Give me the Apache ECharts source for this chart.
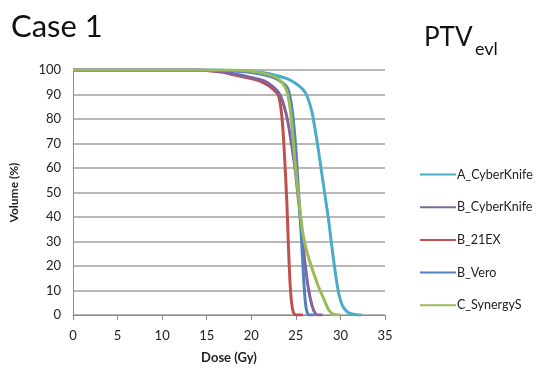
<!DOCTYPE html>
<html>
<head>
<meta charset="utf-8">
<script src="https://cdn.jsdelivr.net/npm/echarts@6/dist/echarts.min.js"></script>
<style>
  html, body { margin: 0; padding: 0; background: #fff; }
  #chart { width: 545px; height: 388px; }
</style>
</head>
<body>
<div id="chart"></div>
<script>
// dose (Gy), volume (%) pairs
const aCyberKnife = [[0, 100], [14, 100], [18, 99.8], [20, 99.5], [22, 98.5], [24, 96.5], [25, 94.5], [25.8, 92], [26.3, 89], [26.8, 83], [27.1, 77], [27.5, 68], [27.9, 58], [28.3, 48], [28.7, 38], [29.0, 29], [29.4, 18], [29.8, 9], [30.2, 4], [30.7, 1.5], [31.2, 0.5], [32.0, 0], [32.4, 0]]
const bCyberKnife = [[0, 100], [14, 100], [16, 99.6], [18, 98.5], [20, 97], [21.5, 95.5], [22.5, 93], [23.2, 90], [23.7, 85], [24.1, 79], [24.5, 70], [24.9, 60], [25.2, 50], [25.5, 40], [25.7, 33], [26.0, 22], [26.4, 11], [26.8, 4], [27.2, 0.5], [27.6, 0], [28, 0]]
const b21EX = [[0, 100], [14, 100], [15, 99.8], [17, 99], [18, 98], [20, 96.5], [21, 95.5], [22, 93.5], [22.5, 92], [23, 90], [23.3, 85], [23.5, 78], [23.7, 67], [24.0, 45], [24.2, 25], [24.4, 10], [24.6, 3], [24.8, 0.5], [25.2, 0], [25.8, 0]]
const bVero = [[0, 100], [16, 100], [18, 99.6], [20, 99], [22, 97.5], [23, 96], [24, 93], [24.4, 88], [24.7, 80], [25.0, 68], [25.3, 50], [25.6, 33], [25.8, 20], [26.0, 8], [26.2, 2], [26.5, 0], [27, 0]]
const cSynergyS = [[0, 100], [17, 100], [20, 99.5], [22, 98], [23, 96.5], [23.8, 93], [24.2, 88], [24.5, 80], [24.8, 67], [25.1, 55], [25.4, 45], [25.8, 33], [26.3, 25], [27.0, 17], [27.6, 11], [28.2, 6], [28.7, 2], [29.2, 0.3], [30, 0]]

const seriesNames = ['A_CyberKnife', 'B_CyberKnife', 'B_21EX', 'B_Vero', 'C_SynergyS']
const seriesData = [aCyberKnife, bCyberKnife, b21EX, bVero, cSynergyS]
const colors = ['#4BACC6', '#8064A2', '#C0504D', '#4F81BD', '#9BBB59']
// draw order: put the top-most lines last
const drawOrder = [0, 2, 1, 3, 4]

const font = 'Lato, "Open Sans", sans-serif'

const chart = echarts.init(document.getElementById('chart'))
chart.setOption({
  animation: false,
  color: colors,
  textStyle: { fontFamily: font },
  title: [
    {
      text: 'Case 1',
      left: 6,
      top: 6,
      textStyle: { fontSize: 31, fontWeight: 'normal', color: '#111', fontFamily: font },
    },
    {
      text: 'PTV',
      left: 419,
      top: 20,
      textStyle: { fontSize: 26, fontWeight: 'normal', color: '#111', fontFamily: font },
    },
    {
      text: 'evl',
      left: 470,
      top: 35,
      textStyle: { fontSize: 18, fontWeight: 'normal', color: '#111', fontFamily: font },
    },
  ],
  legend: {
    orient: 'vertical',
    left: 415,
    top: 163,
    itemWidth: 36,
    itemHeight: 12,
    itemGap: 19.7,
    icon: 'path://M0,5 L36,5 L36,7 L0,7 Z',
    data: seriesNames,
    textStyle: { fontSize: 12.5, color: '#222', fontFamily: font, padding: [0, 0, 0, -4] },
  },
  grid: {
    left: 70,
    right: 160,
    top: 70,
    bottom: 73,
    containLabel: false,
  },
  xAxis: {
    type: 'value',
    min: 0,
    max: 35,
    interval: 5,
    name: 'Dose (Gy)',
    nameLocation: 'middle',
    nameGap: 36,
    nameTextStyle: { fontSize: 13, fontWeight: 'bold', color: '#222', fontFamily: font },
    axisLine: { show: true, lineStyle: { color: '#8c8c8c', width: 1 } },
    axisTick: { show: true, length: 5, inside: false, lineStyle: { color: '#8c8c8c' } },
    axisLabel: { fontSize: 13, color: '#222', margin: 14, fontFamily: font },
    splitLine: { show: false },
  },
  yAxis: {
    type: 'value',
    min: 0,
    max: 100,
    interval: 10,
    name: 'Volume (%)',
    nameLocation: 'middle',
    nameGap: 53,
    nameTextStyle: { fontSize: 12, fontWeight: 'bold', color: '#222', fontFamily: font },
    axisLine: { show: true, lineStyle: { color: '#8c8c8c', width: 1 } },
    axisTick: { show: false },
    axisLabel: { fontSize: 13, color: '#222', margin: 12, fontFamily: font },
    splitLine: { show: true, lineStyle: { color: '#a0a0a0', width: 1.5 } },
  },
  series: drawOrder.map((i) => ({
    name: seriesNames[i],
    type: 'line',
    data: seriesData[i],
    smooth: 0.3,
    showSymbol: false,
    symbol: 'none',
    color: colors[i],
    lineStyle: { width: 3, color: colors[i] },
    z: 3,
  })),
})
</script>
</body>
</html>
